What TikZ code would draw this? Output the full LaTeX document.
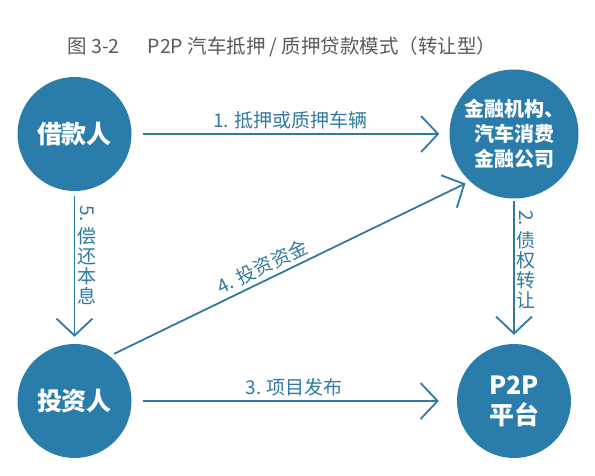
\documentclass[tikz,border=0pt]{standalone}
\usepackage{fontspec}
\newfontfamily\cjk{Noto Sans CJK SC}
\usepackage{graphicx}
\usetikzlibrary{arrows.meta}
\definecolor{circblue}{HTML}{2A7DAA}
\definecolor{lineblue}{HTML}{3079A0}
\definecolor{titlegray}{HTML}{5A5A5A}
\tikzset{
    party/.style={circle,fill=circblue,text=white,inner sep=0pt,align=center,minimum size=114pt,
        font=\cjk\bfseries\fontsize{25}{30}\selectfont},
    bigparty/.style={party,minimum size=129pt,font=\cjk\bfseries\fontsize{20}{25}\selectfont},
    flow/.style={-{Straight Barb[length=17pt,width=36pt]},line width=1.8pt,draw=lineblue},
    steplabel/.style={text=lineblue,inner sep=4pt,font=\cjk\fontsize{19}{21}\selectfont},
    downlabel/.style={steplabel,right,align=center,inner sep=2pt,font=\cjk\fontsize{19}{20}\selectfont}
}

\begin{document}
\begin{tikzpicture}[x=1pt,y=-1pt]
                    \useasboundingbox (0,0) rectangle (595,476);

                    \node[text=titlegray,font=\cjk\fontsize{19.5}{22}\selectfont] (title) at (282,47)
                        {图 3-2\hspace{28pt}P2P 汽车抵押 / 质押贷款模式（转让型）};

                    \node[party]    (borrower) at (74.5,134) {借款人};
                    \node[bigparty] (finance)  at (514,134)  {金融机构、\\汽车消费\\金融公司};
                    \node[party]    (investor) at (74.5,401) {投资人};
                    \node[party]    (platform) at (514,401)  {P2P\\平台};

                    \draw[flow,shorten <=11pt,shorten >=10pt] (borrower) -- (finance)
                        node[steplabel,midway,above] {1. 抵押或质押车辆};
                    \draw[flow,shorten <=2pt,shorten >=9pt] (finance) -- (platform)
                        node[downlabel,pos=0.42] {\rotatebox[origin=c]{-90}{2.}\\[3pt]债\\权\\转\\让};
                    \draw[flow,shorten <=11pt,shorten >=18pt] (investor) -- (platform)
                        node[steplabel,pos=0.5,above] {3. 项目发布};
                    \draw[flow,shorten <=5pt,shorten >=5pt] (investor.52) -- (finance.227)
                        node[steplabel,pos=0.44,above,sloped] {4. 投资资金};
                    \draw[flow,shorten <=5pt,shorten >=7pt] (borrower) -- (investor)
                        node[downlabel,pos=0.42] {\rotatebox[origin=c]{-90}{5.}\\[3pt]偿\\还\\本\\息};
                \end{tikzpicture}
\end{document}
